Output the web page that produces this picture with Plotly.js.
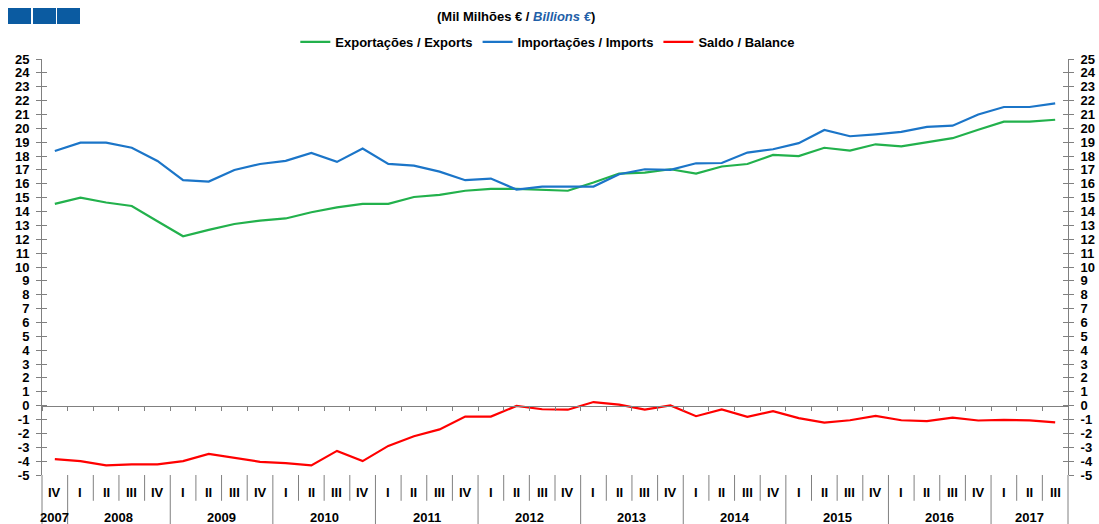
<!DOCTYPE html>
<html><head><meta charset="utf-8">
<script src="https://cdn.plot.ly/plotly-3.0.1.min.js"></script>
<style>
html,body{margin:0;padding:0;background:#fff;}
#wrap{position:relative;width:1099px;height:524px;overflow:hidden;}
#chart{width:1099px;height:524px;}
.sq{position:absolute;top:8px;width:23px;height:16px;background:#0b5ba1;}
</style></head><body>
<div id="wrap"><div id="chart"></div>
<div class="sq" style="left:8px"></div><div class="sq" style="left:33px"></div><div class="sq" style="left:57px"></div>
</div>
<script>
// Quarter labels and their years
const quarters = ['IV',
  'I','II','III','IV', 'I','II','III','IV', 'I','II','III','IV',
  'I','II','III','IV', 'I','II','III','IV', 'I','II','III','IV',
  'I','II','III','IV', 'I','II','III','IV', 'I','II','III','IV',
  'I','II','III'];
const years = [2007,
  2008,2008,2008,2008, 2009,2009,2009,2009, 2010,2010,2010,2010,
  2011,2011,2011,2011, 2012,2012,2012,2012, 2013,2013,2013,2013,
  2014,2014,2014,2014, 2015,2015,2015,2015, 2016,2016,2016,2016,
  2017,2017,2017];

// Values in billions of euros
const exportsBn = [14.55,
  15.0, 14.65, 14.4, 13.3,
  12.22, 12.68, 13.1, 13.35,
  13.5, 13.95, 14.3, 14.55,
  14.55, 15.05, 15.2, 15.5,
  15.63, 15.63, 15.56, 15.5,
  16.09, 16.74, 16.8, 17.05,
  16.74, 17.25, 17.43, 18.08,
  18.0, 18.6, 18.4, 18.85,
  18.7, 19.0, 19.29, 19.9,
  20.48, 20.48, 20.62];
const importsBn = [18.37,
  18.97, 18.97, 18.6, 17.65,
  16.26, 16.16, 17.0, 17.43,
  17.65, 18.23, 17.58, 18.54,
  17.43, 17.31, 16.88, 16.26,
  16.38, 15.58, 15.8, 15.8,
  15.8, 16.69, 17.05, 17.0,
  17.48, 17.5, 18.25, 18.49,
  18.93, 19.88, 19.43, 19.57,
  19.74, 20.1, 20.19, 21.0,
  21.54, 21.54, 21.8];
const balanceBn = [-3.86,
  -4.0, -4.31, -4.24, -4.24,
  -4.0, -3.48, -3.76, -4.05,
  -4.14, -4.31, -3.26, -4.0,
  -2.9, -2.21, -1.71, -0.79,
  -0.79, -0.02, -0.26, -0.29,
  0.26, 0.07, -0.29, 0.02,
  -0.76, -0.27, -0.8, -0.4,
  -0.9, -1.22, -1.05, -0.74,
  -1.05, -1.12, -0.86, -1.07,
  -1.02, -1.06, -1.2];

const seriesNames = ['Exportações / Exports', 'Importações / Imports', 'Saldo / Balance'];
const yTicks = [];
for (let v = -5; v <= 25; v++) yTicks.push(v);

const FONT = 'Liberation Sans, Arial, sans-serif';
const GREY = '#808080';
const xIdx = quarters.map((q, i) => i);

const traces = [
  {x: xIdx, y: exportsBn, name: seriesNames[0], mode: 'lines', line: {color: '#22b14c', width: 2.2}},
  {x: xIdx, y: importsBn, name: seriesNames[1], mode: 'lines', line: {color: '#1b75c8', width: 2.2}},
  {x: xIdx, y: balanceBn, name: seriesNames[2], mode: 'lines', line: {color: '#ff0000', width: 2.2}},
  {x: [0], y: [null], yaxis: 'y2', showlegend: false, hoverinfo: 'skip', mode: 'lines'},
  {x: [0], y: [null], yaxis: 'y3', showlegend: false, hoverinfo: 'skip', mode: 'lines'},
  {x: [0], y: [null], yaxis: 'y4', showlegend: false, hoverinfo: 'skip', mode: 'lines'}
];

const boundaries = [];
for (let k = 0; k <= quarters.length; k++) boundaries.push(k - 0.5);

const tickFont = {family: FONT, size: 13, color: '#000', weight: 'bold'};
function yAx(extra) {
  return Object.assign({
    range: [-5, 25], tickmode: 'array', tickvals: yTicks, ticktext: yTicks.map(String),
    ticks: 'outside', ticklen: 5, tickcolor: GREY, tickwidth: 1,
    showline: true, linecolor: GREY, linewidth: 1, showgrid: false, zeroline: false,
    tickfont: tickFont, ticklabelstandoff: 4, fixedrange: true
  }, extra);
}

const shapes = [];
const annotations = [];
// separators under the plot
for (let k = 1; k < quarters.length; k++) {
  const yearBreak = years[k] !== years[k - 1];
  shapes.push({type: 'line', xref: 'x', yref: 'paper', x0: k - 0.5, x1: k - 0.5,
    y0: 0, y1: yearBreak ? -0.125 : -0.062, line: {color: GREY, width: 1}});
}
shapes.push({type: 'line', xref: 'paper', yref: 'paper', x0: 0, x1: 0, y0: 0, y1: -0.125, line: {color: GREY, width: 1}});
shapes.push({type: 'line', xref: 'paper', yref: 'paper', x0: 1, x1: 1, y0: 0, y1: -0.125, line: {color: GREY, width: 1}});

quarters.forEach((q, i) => {
  annotations.push({xref: 'x', yref: 'paper', x: i, y: -0.041, text: q, showarrow: false,
    xanchor: 'center', yanchor: 'middle', font: {family: FONT, size: 13, color: '#000', weight: 'bold'}});
});
const yearList = [...new Set(years)];
yearList.forEach(yr => {
  const idx = xIdx.filter(i => years[i] === yr);
  const mid = (idx[0] + idx[idx.length - 1]) / 2;
  annotations.push({xref: 'x', yref: 'paper', x: mid, y: -0.101, text: String(yr), showarrow: false,
    xanchor: 'center', yanchor: 'middle', font: {family: FONT, size: 13, color: '#000', weight: 'bold'}});
});
annotations.push({xref: 'paper', yref: 'paper', x: 0.4624, y: 1.101, xanchor: 'center', yanchor: 'middle',
  showarrow: false, text: "(Mil Milhões € / <i><span style='color:#1f5fa8'>Billions €</span></i>)",
  font: {family: FONT, size: 13, color: '#000', weight: 'bold'}});

const layout = {
  width: 1099, height: 524,
  margin: {l: 42, r: 31, t: 59, b: 49, pad: 0},
  paper_bgcolor: '#fff', plot_bgcolor: '#fff',
  showlegend: true,
  legend: {orientation: 'h', x: 0.493, xanchor: 'center', y: 1.041, yanchor: 'middle',
    font: {family: FONT, size: 13, color: '#000', weight: 'bold'}, bgcolor: 'rgba(0,0,0,0)',
    itemwidth: 30, tracegroupgap: 0},
  xaxis: {range: [-0.5, quarters.length - 0.5], anchor: 'free', position: 5 / 30,
    showline: true, linecolor: GREY, linewidth: 1,
    ticks: 'outside', ticklen: 4, tickcolor: GREY, tickmode: 'array', tickvals: boundaries,
    showticklabels: false, showgrid: false, zeroline: false, fixedrange: true},
  yaxis: yAx({side: 'left', anchor: 'x'}),
  yaxis2: yAx({side: 'right', overlaying: 'y', anchor: 'x'}),
  yaxis3: yAx({side: 'left', overlaying: 'y', anchor: 'x', ticks: 'inside', showticklabels: false, showline: false}),
  yaxis4: yAx({side: 'right', overlaying: 'y', anchor: 'x', ticks: 'inside', showticklabels: false, showline: false}),
  shapes: shapes,
  annotations: annotations
};

Plotly.newPlot('chart', traces, layout, {displayModeBar: false, staticPlot: true});
</script>
</body></html>
